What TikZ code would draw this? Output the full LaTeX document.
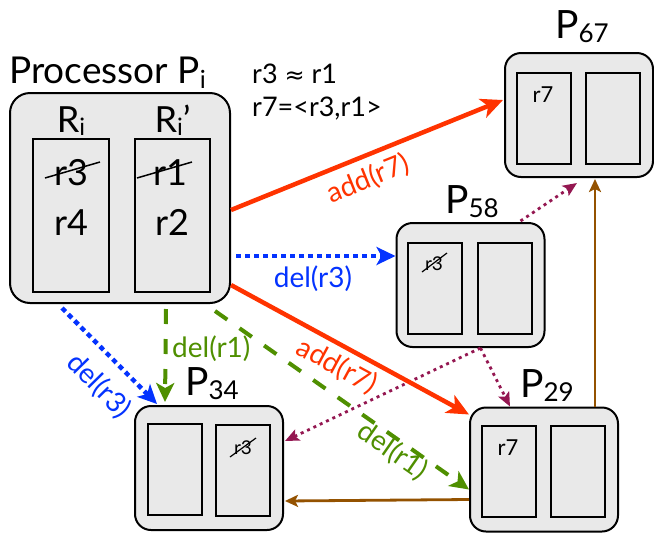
\documentclass[tikz,border=0pt]{standalone}
\usepackage{fontspec}
\setmainfont{Lato}
\newfontfamily\dejavu{DejaVu Sans}
\usetikzlibrary{arrows.meta}
\definecolor{kred}{HTML}{FF3300}
\definecolor{kblue}{HTML}{0433FF}
\definecolor{kgreen}{HTML}{4F8F00}
\definecolor{kpurple}{HTML}{941751}
\definecolor{kbrown}{HTML}{945200}
\definecolor{kfill}{HTML}{E9E9E9}
\newcommand\lsub[3]{\raisebox{-#1}{\fontsize{#2}{#2}\selectfont #3}}
\newcommand\fs[1]{\fontsize{#1}{#1}\selectfont}
\begin{document}
\begin{tikzpicture}[x=1pt,y=-1pt,
  pbox/.style={draw=black, line width=2pt, fill=kfill, rounded corners=16pt,
    minimum width=148pt, minimum height=124pt, inner sep=0pt},
  ibox/.style={draw=black, line width=2pt, fill=kfill,
    minimum width=54pt, minimum height=91pt, inner sep=0pt},
  ptitle/.style={anchor=base west, inner sep=0pt, font=\fs{39}},
  big/.style={anchor=base, inner sep=0pt, font=\fs{36}},
  small/.style={anchor=base, inner sep=0pt, font=\fs{22}},
  lab/.style={inner sep=0pt, font=\fs{28}},
  redarr/.style={draw=kred, line width=4.5pt, -{Stealth[length=22pt,width=20pt,inset=6pt]}},
  bluearr/.style={draw=kblue, line width=4.5pt, dash pattern=on 5pt off 4pt,
    -{Stealth[length=19pt,width=18pt,inset=5pt]}},
  greenarr/.style={draw=kgreen, line width=4pt, dash pattern=on 15pt off 15pt,
    -{Stealth[length=19pt,width=18pt,inset=5pt]}},
  purparr/.style={draw=kpurple, line width=2.8pt, dash pattern=on 3pt off 4pt,
    -{Stealth[length=14pt,width=12pt,inset=3pt]}},
  brownarr/.style={draw=kbrown, line width=2.8pt,
    -{Stealth[length=13pt,width=12pt,inset=3pt]}},
  strike/.style={draw=black, line width=1.5pt}
]
\useasboundingbox (0,0) rectangle (654,539);

% Processor Pi
\node[ptitle, font=\fs{37}] (tPi) at (9,83) {Processor P\lsub{5pt}{25}{i}};
\node[pbox, rounded corners=20pt, minimum width=220pt, minimum height=210pt] (Pi) at (120,198) {};
\node[ibox, minimum width=76pt, minimum height=153pt] (PiL) at (71,215.5) {};
\node[ibox, minimum width=75pt, minimum height=153pt] (PiR) at (172.5,215.5) {};
\node[big] (tRi) at (71,132) {R\lsub{3pt}{24}{i}};
\node[big] (tRii) at (172.5,132) {R\lsub{3pt}{24}{i}’};
\node[big] (t3) at (71,185) {r3};
\node[big] (t4) at (71,235) {r4};
\node[big] (t1) at (170,185) {r1};
\node[big] (t2) at (172,235) {r2};
\draw[strike] (45,178) -- (100,162);
\draw[strike] (137,178) -- (192,162);

% equations
\node[anchor=base west, inner sep=0pt, font=\fs{27}] (eq1) at (252,83) {r3 {\dejavu\fs{24}≈} r1};
\node[anchor=base west, inner sep=0pt, font=\fs{27}] (eq2) at (252,116) {r7=<r3,r1>};

% P67
\node[pbox] (P67) at (579,115) {};
\node[ibox] (P67a) at (544,118.5) {};
\node[ibox] (P67b) at (613,118.5) {};
\node[small] (r7a) at (543,102) {r7};
\node[ptitle] (tP67) at (555,38) {P\lsub{4pt}{26}{67}};

% P58
\node[pbox] (P58) at (470.5,285) {};
\node[ibox] (P58a) at (435,288.5) {};
\node[ibox] (P58b) at (504.5,288.5) {};
\node[small, font=\fs{19}] (s58) at (434,270) {r3};
\draw[strike, line width=1.2pt] (422,272) -- (447,253);
\node[ptitle] (tP58) at (445,213) {P\lsub{4pt}{26}{58}};

% P34
\node[pbox] (P34) at (209,468) {};
\node[ibox] (P34a) at (175,469.5) {};
\node[ibox] (P34b) at (242.5,470.5) {};
\node[small, font=\fs{19}] (s34) at (243,454) {r3};
\draw[strike, line width=1.2pt] (230,457) -- (256,438);
\node[ptitle] (tP34) at (185,395) {P\lsub{4pt}{26}{34}};

% P29
\node[pbox] (P29) at (544,469.5) {};
\node[ibox] (P29a) at (509,471.5) {};
\node[ibox] (P29b) at (578,471.5) {};
\node[small] (r7b) at (508,455) {r7};
\node[ptitle] (tP29) at (520,397) {P\lsub{4pt}{26}{29}};

% connectors
\draw[brownarr] ([xshift=51pt]P29.north) -- ([xshift=16pt,yshift=-1pt]P67.south);
\draw[brownarr] ([yshift=-30pt]P29.west) -- ([yshift=-33pt,xshift=1pt]P34.east);
\draw[purparr] ([xshift=50pt,yshift=1pt]P58.north) -- ([xshift=-2pt,yshift=-5pt]P67.south);
\draw[purparr] ([xshift=10pt]P58.south) -- ([xshift=-34pt]P29.north);
\draw[purparr] ([xshift=10pt]P58.south) -- ([yshift=27pt,xshift=1pt]P34.east);

\draw[redarr] ([yshift=-12pt]Pi.east) -- ([yshift=15pt,xshift=-1pt]P67.west);
\draw[bluearr] ([xshift=5pt,yshift=-58pt]Pi.east) -- ([yshift=29pt]P58.west);
\draw[redarr] ([yshift=-87pt]Pi.east) -- ([yshift=-8pt]P29.north west);
\draw[bluearr] ([xshift=-58pt,yshift=-4pt]Pi.south) -- ([xshift=23pt,yshift=1pt]P34.north west);
\draw[greenarr] ([xshift=46pt,yshift=-5pt]Pi.south) -- ([xshift=31pt,yshift=3pt]P34.north west);
\draw[greenarr] ([xshift=95pt,yshift=-7pt]Pi.south) -- ([yshift=-83pt]P29.north west);

% labels
\node[lab, text=kred, rotate=21.9] (l1) at (368,179) {add(r7)};
\node[lab, text=kblue] (l2) at (313,279) {del(r3)};
\node[lab, text=kred, rotate=-28.4] (l3) at (337,366) {add(r7)};
\node[lab, text=kblue, rotate=-45.6] (l4) at (99,386) {del(r3)};
\node[lab, text=kgreen, anchor=west] (l5) at (172,349) {del(r1)};
\node[lab, text=kgreen, rotate=-34.9] (l6) at (393,451) {del(r1)};
\end{tikzpicture}
\end{document}
